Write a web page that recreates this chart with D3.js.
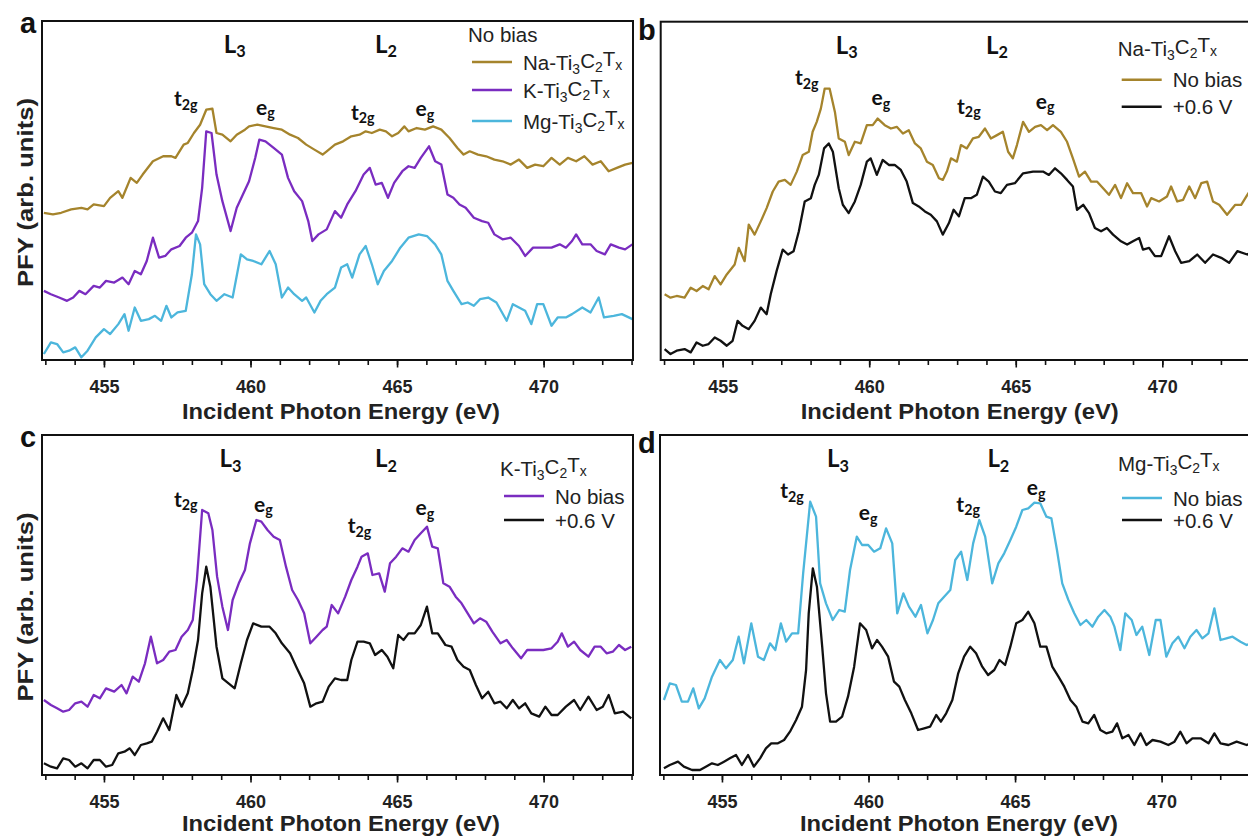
<!DOCTYPE html>
<html>
<head>
<meta charset="utf-8">
<script src="https://cdn.jsdelivr.net/npm/d3@7"></script>
<style>
  body { margin: 0; background: #fff; }
  svg { display: block; }
  .axis text { font-family: "Liberation Sans", Arial, sans-serif; font-weight: bold; font-size: 18px; fill: #222; }
  .axis path { display: none; }
  .axis line { stroke: #111; stroke-width: 1.6px; }
</style>
</head>
<body>
<div id="chart"></div>
<script>

// ---- data (energy in eV, PFY in arb. units) ----

const majorTicks = [455, 460, 465, 470]
const minorTicks = d3.range(453, 474, 1)

const aNa = [[452.95,44.3],[453.26,43.8],[453.54,44.3],[453.88,45.3],[454.23,45.8],[454.44,45.3],[454.65,46.8],[455.0,46.3],[455.21,48.8],[455.49,50.8],[455.63,48.8],[455.91,54.8],[456.12,53.3],[456.32,55.8],[456.67,59.8],[457.02,61.3],[457.30,61.3],[457.44,60.8],[457.72,64.8],[457.86,65.3],[458.07,68.3],[458.28,70.8],[458.49,75.3],[458.70,75.6],[458.84,68.3],[459.04,67.8],[459.32,65.8],[459.53,67.8],[459.81,69.3],[459.95,70.3],[460.23,70.8],[460.51,70.3],[460.79,69.8],[461.07,69.3],[461.35,67.8],[461.62,66.8],[461.90,64.8],[462.18,63.3],[462.46,61.8],[462.60,62.8],[462.88,64.8],[463.16,65.8],[463.44,67.3],[463.72,67.8],[463.93,68.8],[464.14,68.3],[464.41,69.3],[464.62,68.8],[464.83,67.3],[465.04,68.3],[465.25,70.3],[465.39,68.8],[465.67,69.8],[465.95,69.3],[466.23,70.3],[466.51,69.3],[466.79,66.8],[467.06,63.8],[467.27,61.8],[467.48,62.8],[467.76,61.8],[468.04,61.3],[468.32,60.3],[468.60,59.8],[468.88,58.8],[469.16,60.3],[469.44,57.8],[469.71,58.8],[469.99,58.3],[470.27,60.8],[470.55,58.8],[470.83,60.8],[471.11,59.8],[471.39,61.3],[471.67,58.8],[471.95,59.8],[472.22,56.8],[472.50,57.8],[472.78,58.8],[473.03,59.3]]

const aK = [[452.95,20.8],[453.19,19.8],[453.47,18.8],[453.74,17.8],[453.95,18.8],[454.16,20.8],[454.37,19.8],[454.65,22.3],[454.86,21.8],[455.07,23.8],[455.35,23.3],[455.63,24.8],[455.84,22.8],[456.05,26.8],[456.26,25.8],[456.46,29.8],[456.67,36.8],[456.88,30.8],[457.09,31.3],[457.30,33.3],[457.58,34.3],[457.79,36.8],[458.00,38.3],[458.21,41.8],[458.35,51.8],[458.49,68.8],[458.67,68.3],[458.84,55.8],[459.04,47.8],[459.32,38.8],[459.53,45.8],[459.74,49.8],[459.95,53.8],[460.16,60.8],[460.30,66.3],[460.51,65.8],[460.79,63.8],[461.07,61.8],[461.28,54.8],[461.49,50.8],[461.76,47.8],[461.97,41.8],[462.11,35.8],[462.32,37.8],[462.60,39.3],[462.88,44.8],[463.09,42.8],[463.30,46.8],[463.58,50.8],[463.86,55.8],[464.07,57.8],[464.27,52.8],[464.48,53.3],[464.69,48.8],[464.90,53.3],[465.18,56.8],[465.39,58.3],[465.60,57.8],[465.81,60.8],[466.09,64.3],[466.30,59.8],[466.51,58.8],[466.72,49.8],[466.92,48.8],[467.13,46.8],[467.34,45.8],[467.62,42.8],[467.90,41.8],[468.11,41.3],[468.32,37.8],[468.60,36.3],[468.88,36.8],[469.16,34.3],[469.37,31.3],[469.64,33.8],[469.99,33.8],[470.27,33.8],[470.55,34.8],[470.76,33.8],[470.97,35.8],[471.11,37.8],[471.32,34.8],[471.60,34.8],[471.81,32.8],[472.09,31.8],[472.29,34.8],[472.57,33.8],[472.78,33.3],[473.03,34.8]]

const aMg = [[452.95,1.8],[453.19,5.3],[453.40,4.8],[453.61,2.3],[453.81,2.8],[454.02,3.8],[454.23,0.8],[454.44,2.8],[454.72,6.8],[455.0,9.3],[455.21,7.8],[455.49,10.8],[455.70,13.8],[455.84,8.8],[456.05,15.8],[456.26,11.8],[456.53,12.3],[456.74,13.3],[456.95,11.8],[457.13,16.3],[457.30,12.8],[457.51,14.3],[457.79,14.8],[458.00,25.8],[458.14,37.8],[458.28,34.8],[458.42,22.8],[458.63,19.8],[458.84,17.8],[459.11,19.8],[459.39,18.8],[459.67,31.8],[459.88,30.3],[460.09,29.8],[460.37,28.8],[460.65,32.8],[460.86,28.8],[461.07,18.8],[461.28,21.8],[461.49,19.8],[461.76,17.8],[461.90,18.8],[462.18,14.3],[462.39,17.8],[462.60,19.8],[462.88,21.8],[463.09,27.8],[463.30,28.8],[463.47,24.8],[463.72,31.8],[463.93,34.3],[464.14,28.8],[464.34,22.8],[464.55,26.8],[464.83,29.8],[465.11,33.8],[465.39,36.8],[465.74,37.8],[466.02,37.3],[466.30,34.8],[466.51,31.8],[466.72,23.8],[466.92,20.8],[467.20,16.8],[467.41,17.3],[467.62,16.3],[467.83,18.3],[468.11,18.8],[468.39,17.3],[468.74,11.8],[468.95,16.8],[469.16,15.8],[469.37,14.8],[469.58,10.8],[469.78,16.8],[469.99,16.8],[470.27,10.3],[470.48,12.8],[470.76,12.8],[470.97,13.8],[471.32,15.8],[471.60,14.3],[471.88,18.8],[472.06,12.8],[472.39,13.3],[472.67,13.8],[473.03,12.3]]

const bNa = [[453.02,19.8],[453.22,18.8],[453.43,19.3],[453.70,18.8],[453.91,21.8],[454.11,20.8],[454.32,22.3],[454.52,21.3],[454.73,25.3],[454.93,22.8],[455.14,25.8],[455.41,28.8],[455.55,33.8],[455.75,29.8],[455.89,40.8],[456.09,37.8],[456.30,41.8],[456.50,45.8],[456.71,50.8],[456.91,53.8],[457.12,54.3],[457.32,52.8],[457.53,56.8],[457.73,61.8],[457.94,62.8],[458.07,68.8],[458.21,71.8],[458.35,75.8],[458.48,81.8],[458.65,81.8],[458.83,74.8],[458.96,66.8],[459.17,65.8],[459.30,61.8],[459.51,65.8],[459.71,65.3],[459.92,70.8],[460.12,70.8],[460.29,72.8],[460.53,70.8],[460.74,69.8],[460.94,70.3],[461.15,68.3],[461.35,69.3],[461.56,65.3],[461.76,63.8],[461.97,59.8],[462.17,58.8],[462.38,54.8],[462.51,54.3],[462.65,56.8],[462.79,60.8],[462.99,59.8],[463.13,64.8],[463.33,63.8],[463.54,66.8],[463.74,67.3],[463.95,69.8],[464.15,66.8],[464.36,67.8],[464.56,68.8],[464.74,62.8],[464.90,60.8],[465.04,64.8],[465.25,71.8],[465.45,68.8],[465.66,70.3],[465.86,70.8],[466.07,69.3],[466.27,70.8],[466.54,68.8],[466.75,65.8],[466.95,60.8],[467.16,55.3],[467.36,56.8],[467.57,53.8],[467.77,53.8],[467.98,51.8],[468.18,49.8],[468.39,52.8],[468.59,48.8],[468.80,53.3],[469.00,50.3],[469.28,50.3],[469.48,46.3],[469.62,48.8],[469.89,47.8],[470.16,49.3],[470.30,52.3],[470.51,47.8],[470.71,48.3],[470.92,52.3],[471.12,48.8],[471.33,53.3],[471.53,53.8],[471.73,47.8],[471.94,46.8],[472.21,43.8],[472.49,46.8],[472.69,46.8],[472.90,49.8],[473.03,51.5]]

const bBias = [[453.02,3.3],[453.22,1.8],[453.43,2.8],[453.70,3.3],[453.91,2.3],[454.11,5.3],[454.32,4.3],[454.52,4.8],[454.73,6.8],[454.93,5.8],[455.14,4.3],[455.34,5.8],[455.51,11.8],[455.68,10.3],[455.89,9.3],[456.09,11.8],[456.30,15.8],[456.50,13.8],[456.64,19.8],[456.84,26.8],[457.05,33.3],[457.23,31.8],[457.42,32.8],[457.60,38.8],[457.80,47.8],[458.01,48.8],[458.14,52.8],[458.28,55.8],[458.46,63.8],[458.62,65.3],[458.76,62.8],[458.96,51.8],[459.10,46.8],[459.30,44.3],[459.51,47.8],[459.71,52.8],[459.92,59.8],[460.05,60.8],[460.26,55.8],[460.46,60.3],[460.67,58.8],[460.87,58.8],[461.08,57.3],[461.28,53.8],[461.49,47.3],[461.69,46.3],[461.90,44.8],[462.10,43.8],[462.31,41.8],[462.51,37.8],[462.72,41.3],[462.88,45.3],[463.06,43.3],[463.26,48.8],[463.47,48.8],[463.67,49.8],[463.88,55.3],[464.08,53.8],[464.29,50.8],[464.49,50.3],[464.70,52.8],[464.97,53.3],[465.25,56.3],[465.59,56.8],[465.93,56.8],[466.13,55.8],[466.34,57.8],[466.54,56.3],[466.75,54.3],[466.95,52.3],[467.09,45.3],[467.30,46.8],[467.50,44.3],[467.70,39.8],[467.91,38.8],[468.11,39.8],[468.32,37.8],[468.59,35.8],[468.80,34.8],[469.00,35.8],[469.21,36.8],[469.34,33.3],[469.55,33.8],[469.75,31.3],[469.96,31.3],[470.23,37.3],[470.44,32.8],[470.64,29.3],[470.92,29.8],[471.19,31.8],[471.46,29.3],[471.73,31.8],[472.01,30.8],[472.28,29.3],[472.56,32.8],[472.90,31.8],[473.03,32.5]]

const cK = [[452.95,22.5],[453.19,21.0],[453.40,20.0],[453.61,19.0],[453.81,19.5],[454.02,21.5],[454.23,22.0],[454.44,20.5],[454.65,24.0],[454.86,23.0],[455.07,26.0],[455.35,25.0],[455.60,27.0],[455.77,24.5],[455.98,29.5],[456.19,28.0],[456.40,33.5],[456.60,41.5],[456.81,33.5],[457.02,34.5],[457.23,37.0],[457.44,37.5],[457.65,41.5],[457.86,43.5],[458.03,46.5],[458.17,58.5],[458.35,79.5],[458.56,78.5],[458.70,73.5],[458.86,59.5],[459.04,50.5],[459.23,43.5],[459.39,52.5],[459.60,57.5],[459.81,61.5],[459.98,69.5],[460.20,76.5],[460.37,76.0],[460.58,73.5],[460.79,71.5],[461.00,70.5],[461.21,62.5],[461.42,55.5],[461.62,52.5],[461.83,48.5],[462.04,39.5],[462.25,41.5],[462.46,43.5],[462.60,44.5],[462.77,51.0],[462.99,48.5],[463.23,53.5],[463.44,58.5],[463.65,62.5],[463.79,65.5],[464.00,66.5],[464.16,60.0],[464.39,60.5],[464.58,55.0],[464.76,63.5],[464.97,65.5],[465.18,68.0],[465.39,67.0],[465.60,70.5],[465.81,72.5],[466.02,74.5],[466.20,68.5],[466.39,68.0],[466.58,57.5],[466.79,56.5],[467.00,53.5],[467.20,51.5],[467.41,48.5],[467.62,45.5],[467.83,47.0],[468.04,46.0],[468.25,43.0],[468.53,39.5],[468.74,40.5],[468.95,38.0],[469.23,35.0],[469.44,37.5],[469.71,37.5],[469.99,37.5],[470.27,38.0],[470.48,40.0],[470.62,42.5],[470.83,38.5],[471.04,40.0],[471.25,37.5],[471.53,35.5],[471.74,38.5],[471.95,38.5],[472.15,36.5],[472.36,37.0],[472.57,39.0],[472.78,37.5],[472.99,38.5]]

const cBias = [[452.95,3.5],[453.19,2.5],[453.40,2.0],[453.61,5.0],[453.81,4.5],[454.02,2.5],[454.23,3.5],[454.44,2.0],[454.65,4.5],[454.86,4.5],[455.07,2.5],[455.28,3.0],[455.49,6.5],[455.70,7.0],[455.88,8.0],[456.05,6.0],[456.26,9.0],[456.46,9.5],[456.63,10.0],[456.81,13.0],[457.02,17.0],[457.23,13.5],[457.47,24.0],[457.65,20.5],[457.86,24.5],[458.03,31.5],[458.21,40.5],[458.35,54.5],[458.49,62.5],[458.63,56.5],[458.84,38.5],[459.04,29.0],[459.25,27.5],[459.46,26.0],[459.67,33.5],[459.88,40.5],[460.09,45.5],[460.37,44.5],[460.65,44.5],[460.86,42.5],[461.07,39.5],[461.35,36.5],[461.56,32.5],[461.83,27.5],[462.04,20.5],[462.25,21.5],[462.46,22.0],[462.67,26.5],[462.88,29.0],[463.09,28.5],[463.30,28.5],[463.44,34.5],[463.65,40.0],[463.86,40.0],[464.07,39.5],[464.25,36.0],[464.48,37.5],[464.67,35.5],[464.87,32.0],[465.04,42.0],[465.22,40.5],[465.39,42.5],[465.60,42.5],[465.81,45.0],[466.02,50.5],[466.20,42.5],[466.39,42.5],[466.65,39.0],[466.86,38.5],[467.06,34.5],[467.27,32.5],[467.48,31.5],[467.69,27.0],[467.90,23.0],[468.11,25.0],[468.32,21.5],[468.53,22.0],[468.74,20.0],[468.95,22.5],[469.16,20.0],[469.37,21.5],[469.58,18.5],[469.85,17.5],[470.06,20.5],[470.27,18.0],[470.48,18.0],[470.76,20.5],[471.04,22.5],[471.25,19.5],[471.53,23.5],[471.81,19.5],[472.02,20.5],[472.22,24.0],[472.43,18.5],[472.71,19.0],[472.99,17.0]]

const dMg = [[453.02,22.5],[453.22,27.5],[453.43,27.0],[453.63,22.0],[453.84,22.0],[454.02,26.0],[454.21,20.0],[454.41,23.0],[454.66,29.5],[454.93,34.5],[455.14,32.0],[455.37,34.5],[455.57,41.5],[455.75,33.5],[456.00,45.5],[456.23,35.5],[456.43,34.5],[456.64,39.5],[456.82,37.5],[457.01,45.5],[457.19,40.0],[457.39,42.5],[457.60,42.5],[457.77,60.5],[458.01,82.0],[458.21,77.5],[458.35,57.5],[458.55,51.5],[458.78,46.5],[459.00,49.5],[459.19,49.0],[459.37,61.5],[459.60,71.5],[459.78,69.0],[459.99,69.0],[460.19,67.0],[460.40,68.0],[460.60,74.0],[460.81,69.5],[460.98,48.5],[461.19,54.5],[461.38,50.5],[461.60,47.5],[461.79,51.0],[462.01,42.5],[462.20,46.5],[462.38,51.5],[462.58,53.5],[462.79,55.5],[462.96,64.5],[463.16,67.0],[463.37,58.5],[463.57,69.5],[463.78,76.5],[463.98,71.5],[464.22,57.5],[464.43,63.5],[464.63,66.5],[464.84,70.5],[465.04,74.5],[465.25,79.5],[465.45,80.0],[465.66,81.7],[465.86,81.5],[466.07,77.5],[466.24,77.0],[466.43,67.5],[466.61,57.5],[466.82,52.5],[467.02,48.5],[467.23,45.0],[467.43,46.5],[467.64,44.5],[467.84,47.5],[468.05,49.5],[468.25,47.5],[468.39,44.5],[468.59,37.5],[468.76,48.5],[468.98,46.5],[469.14,42.0],[469.34,44.5],[469.58,36.0],[469.80,46.5],[469.96,46.5],[470.16,35.5],[470.37,39.5],[470.57,41.5],[470.78,38.0],[470.98,41.5],[471.19,43.5],[471.39,41.0],[471.60,42.5],[471.80,50.0],[472.01,40.5],[472.21,41.0],[472.42,41.5],[472.69,40.0],[472.90,39.0],[473.03,39.5]]

const dBias = [[453.02,2.0],[453.22,3.0],[453.50,4.0],[453.70,2.5],[453.98,1.5],[454.25,1.5],[454.45,2.5],[454.66,3.5],[454.86,3.0],[455.07,4.0],[455.27,5.0],[455.48,6.0],[455.68,3.0],[455.89,6.0],[456.09,2.5],[456.30,5.0],[456.50,8.0],[456.68,9.5],[456.91,9.5],[457.12,10.5],[457.32,13.0],[457.53,16.5],[457.73,20.5],[457.87,31.5],[457.96,48.5],[458.10,62.0],[458.24,56.5],[458.42,38.5],[458.55,24.5],[458.69,16.0],[458.89,16.0],[459.10,17.5],[459.30,23.5],[459.51,32.5],[459.71,45.5],[459.92,43.5],[460.12,38.0],[460.29,40.5],[460.46,38.5],[460.67,35.5],[460.87,28.0],[461.05,26.5],[461.24,22.5],[461.46,18.5],[461.69,13.5],[461.90,14.0],[462.10,14.5],[462.31,18.0],[462.47,16.0],[462.65,18.5],[462.86,22.5],[463.06,30.5],[463.26,35.5],[463.47,38.5],[463.67,36.5],[463.88,32.5],[464.08,30.0],[464.29,31.5],[464.47,34.5],[464.66,33.0],[464.84,38.5],[465.04,45.5],[465.25,46.5],[465.45,49.0],[465.66,45.5],[465.86,38.5],[466.07,38.5],[466.27,32.5],[466.48,29.5],[466.68,26.5],[466.89,22.5],[467.09,20.5],[467.30,16.0],[467.50,15.5],[467.70,18.0],[467.91,13.5],[468.11,12.5],[468.32,13.0],[468.48,15.5],[468.66,11.0],[468.87,12.0],[469.07,9.0],[469.28,12.5],[469.48,9.0],[469.69,10.5],[469.96,10.0],[470.23,9.0],[470.44,10.0],[470.64,13.0],[470.85,9.5],[471.05,11.0],[471.33,11.0],[471.60,9.5],[471.80,12.5],[472.01,9.5],[472.28,9.0],[472.56,10.0],[472.90,9.0],[473.03,9.5]]

// peak labels: [energy, PFY at text baseline]
const aPeaks = [[457.79,76.3],[460.51,73.8],[463.83,72.3],[465.95,73.3]]
const bPeaks = [[457.87,82.8],[460.40,76.8],[463.40,74.3],[466.00,75.8]]
const cPeaks = [[457.79,80.5],[460.44,79.0],[463.72,72.5],[465.95,78.0]]
const dPeaks = [[457.39,83.0],[459.99,76.5],[463.40,79.0],[465.72,84.0]]
const peakNames = ["t2g", "eg", "t2g", "eg"]

// edge labels: L3, L2 energies
const aEdges = [459.46, 464.62]
const bEdges = [459.23, 464.36]
const cEdges = [459.32, 464.62]
const dEdges = [458.96, 464.43]
const edgeNames = ["3", "2"]

const colors = { Na: "#a5842c", K: "#7a2cc0", Mg: "#4cb6dc", bias: "#111111" }

// ---- layout ----

const width = 1248, height = 837
const plotW = 591
const xDomain = [452.886, 473.05]
const yDomain = [0, 102]

const panels = [
    { id: "a", left: 42, top: 21, h: 339, yLabel: true, letter: [20, 33], xLabelY: 59,
      series: [{d: aNa, c: colors.Na}, {d: aK, c: colors.K}, {d: aMg, c: colors.Mg}],
      peaks: aPeaks, edges: aEdges,
      legend: { title: "No bias", titleY: 21, lineY: [41, 69, 100], x: 426,
                items: [["Na", colors.Na], ["K", colors.K], ["Mg", colors.Mg]] } },
    { id: "b", left: 660.7, top: 21.7, h: 338.3, yLabel: false, letter: [638, 40], xLabelY: 59,
      series: [{d: bNa, c: colors.Na}, {d: bBias, c: colors.bias}],
      peaks: bPeaks, edges: bEdges,
      legend: { title: "Na", titleY: 34, lineY: [58, 85], x: 457,
                items: [["No bias", colors.Na], ["+0.6 V", colors.bias]] } },
    { id: "c", left: 42, top: 435, h: 340, yLabel: true, letter: [20, 447], xLabelY: 56,
      series: [{d: cK, c: colors.K}, {d: cBias, c: colors.bias}],
      peaks: cPeaks, edges: cEdges,
      legend: { title: "K", titleY: 41, lineY: [61, 85], x: 458,
                items: [["No bias", colors.K], ["+0.6 V", colors.bias]] } },
    { id: "d", left: 660, top: 435, h: 340, yLabel: false, letter: [638, 453], xLabelY: 56,
      series: [{d: dMg, c: colors.Mg}, {d: dBias, c: colors.bias}],
      peaks: dPeaks, edges: dEdges,
      legend: { title: "Mg", titleY: 36, lineY: [63, 85], x: 458,
                items: [["No bias", colors.Mg], ["+0.6 V", colors.bias]] } }
]

const svg = d3.select("#chart")
    .append("svg")
    .attr("width", width)
    .attr("height", height)

const sans = "'Liberation Sans', Arial, sans-serif"
const calib = "Lato, 'Open Sans', sans-serif"

// writes "X-Ti3C2Tx" with subscripts into a text element
function mxene(text, prefix) {
    const parts = [[prefix + "-Ti", false], ["3", true], ["C", false], ["2", true], ["T", false], ["x", true]]
    parts.forEach(([s, sub], i) => {
        text.append("tspan")
            .attr("font-size", sub ? "0.68em" : null)
            .attr("dy", sub ? "0.3em" : (i === 0 ? null : "-0.3em"))
            .text(s)
    })
}

panels.forEach(p => {
    const g = svg.append("g").attr("transform", `translate(${p.left}, ${p.top})`)

    const x = d3.scaleLinear().domain(xDomain).range([0, plotW])
    const y = d3.scaleLinear().domain(yDomain).range([p.h, 0])

    g.append("clipPath").attr("id", "clip-" + p.id)
        .append("rect").attr("width", plotW).attr("height", p.h)

    // spectra
    const line = d3.line().x(d => x(d[0])).y(d => y(d[1]))
    p.series.forEach(s => {
        g.append("path")
            .datum(s.d)
            .attr("clip-path", `url(#clip-${p.id})`)
            .attr("fill", "none")
            .attr("stroke", s.c)
            .attr("stroke-width", 2.3)
            .attr("stroke-linejoin", "round")
            .attr("d", line)
    })

    // frame
    g.append("rect")
        .attr("width", plotW).attr("height", p.h)
        .attr("fill", "none").attr("stroke", "#111").attr("stroke-width", 2)

    // x axis: minor then labelled major ticks
    g.append("g").attr("class", "axis")
        .attr("transform", `translate(0, ${p.h})`)
        .call(d3.axisBottom(x).tickValues(minorTicks).tickSize(5).tickFormat(""))
    g.append("g").attr("class", "axis")
        .attr("transform", `translate(0, ${p.h})`)
        .call(d3.axisBottom(x).tickValues(majorTicks).tickSize(7.5).tickPadding(13).tickFormat(d3.format("d")))

    g.append("text")
        .attr("x", 299).attr("y", p.h + p.xLabelY)
        .attr("text-anchor", "middle")
        .attr("font-family", sans).attr("font-weight", "bold").attr("font-size", 21.5)
        .attr("textLength", 318).attr("lengthAdjust", "spacingAndGlyphs")
        .attr("fill", "#222")
        .text("Incident Photon Energy (eV)")

    if (p.yLabel) {
        g.append("text")
            .attr("transform", `translate(${-9.5}, ${p.h / 2 + 2}) rotate(-90)`)
            .attr("text-anchor", "middle")
            .attr("font-family", sans).attr("font-weight", "bold").attr("font-size", 22)
            .attr("textLength", 189).attr("lengthAdjust", "spacingAndGlyphs")
            .attr("fill", "#222")
            .text("PFY (arb. units)")
    }

    // panel letter
    svg.append("text")
        .attr("x", p.letter[0]).attr("y", p.letter[1])
        .attr("font-family", sans).attr("font-weight", "bold").attr("font-size", 29)
        .attr("fill", "#111")
        .text(p.id)

    // L3 / L2 edges
    p.edges.forEach((e, i) => {
        const t = g.append("text")
            .attr("x", x(e)).attr("y", y(92.4))
            .attr("text-anchor", "middle")
            .attr("font-family", calib).attr("font-weight", "bold").attr("font-size", 24)
            .attr("fill", "#111")
        t.append("tspan").text("L")
        t.append("tspan").attr("font-size", "0.68em").attr("dy", "0.28em").text(edgeNames[i])
    })

    // t2g / eg labels
    p.peaks.forEach((pk, i) => {
        const name = peakNames[i]
        const t = g.append("text")
            .attr("x", x(pk[0])).attr("y", y(pk[1]))
            .attr("text-anchor", "middle")
            .attr("font-family", calib).attr("font-weight", "bold").attr("font-size", 21)
            .attr("fill", "#111")
        t.append("tspan").text(name[0])
        t.append("tspan").attr("font-size", "0.68em").attr("dy", "0.25em").text(name.slice(1))
    })

    // legend
    const lg = p.legend
    const title = g.append("text")
        .attr("x", lg.x).attr("y", lg.titleY)
        .attr("font-family", sans).attr("font-size", 20.5).attr("fill", "#222")
    if (lg.title === "No bias") title.text(lg.title)
    else mxene(title, lg.title)

    lg.items.forEach((it, i) => {
        const ly = lg.lineY[i]
        g.append("line")
            .attr("x1", lg.x + 4).attr("x2", lg.x + 44)
            .attr("y1", ly).attr("y2", ly)
            .attr("stroke", it[1]).attr("stroke-width", 2.5)
        const t = g.append("text")
            .attr("x", lg.x + 55).attr("y", ly + 7.5)
            .attr("font-family", sans).attr("font-size", 20.5).attr("fill", "#222")
        if (p.id === "a") mxene(t, it[0])
        else t.text(it[0])
    })
})

</script>
</body>
</html>
